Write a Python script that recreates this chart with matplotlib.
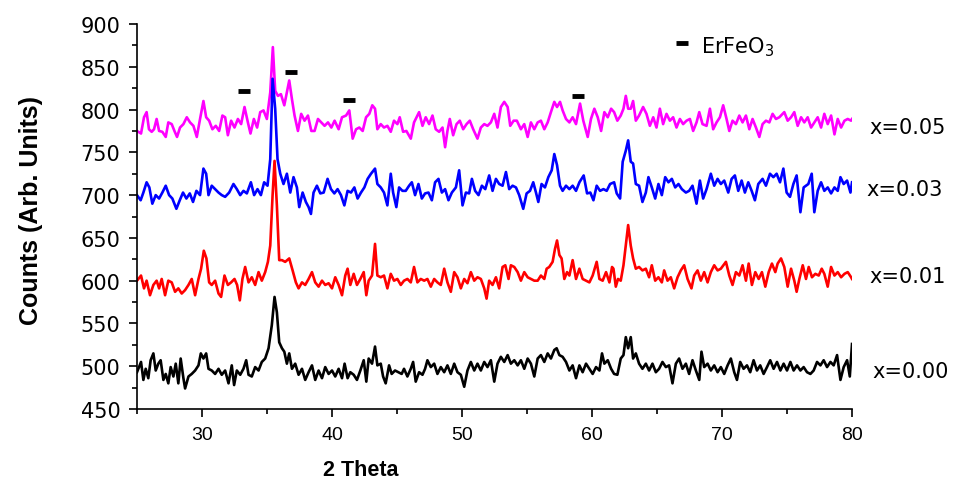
import matplotlib
matplotlib.use('Agg')
import matplotlib.pyplot as plt
from matplotlib.ticker import MultipleLocator
from matplotlib import font_manager

# x = 0.05 (magenta)
x05_t = [25.00, 25.31, 25.54, 25.74, 25.92, 26.13, 26.31, 26.51, 26.70, 26.95, 27.21, 27.41, 27.67, 27.88, 28.08, 28.31,
         28.57, 28.83, 29.08, 29.34, 29.60, 29.85, 30.11, 30.32, 30.55, 30.80, 31.06, 31.32, 31.57, 31.78, 31.99, 32.24,
         32.50, 32.76, 33.01, 33.27, 33.53, 33.73, 33.99, 34.24, 34.48, 34.73, 34.99, 35.25, 35.45, 35.63, 35.84, 36.07,
         36.33, 36.53, 36.71, 36.92, 37.12, 37.38, 37.63, 37.89, 38.15, 38.41, 38.66, 38.92, 39.18, 39.43, 39.69, 39.95,
         40.20, 40.51, 40.77, 41.08, 41.33, 41.59, 41.85, 42.10, 42.36, 42.62, 42.87,
         43.10, 43.31, 43.49, 43.75, 44.00, 44.26, 44.52, 44.77, 45.03, 45.21, 45.47, 45.72, 46.06, 46.31, 46.70, 46.96,
         47.21, 47.47, 47.73, 47.98, 48.24, 48.50, 48.70, 48.88, 49.06, 49.32, 49.58, 49.83, 50.09, 50.35, 50.60, 50.86,
         51.19, 51.45, 51.71, 51.96, 52.22, 52.48, 52.73, 52.99, 53.25, 53.51, 53.71, 53.97, 54.22, 54.53, 54.79, 55.05,
         55.30, 55.56, 55.82, 56.07, 56.33, 56.59, 56.84, 57.10, 57.31, 57.54, 57.74, 58.00, 58.26, 58.51, 58.77, 59.08,
         59.33, 59.67, 59.92, 60.18, 60.44, 60.70, 60.95, 61.21, 61.47,
         61.70, 61.95, 62.21, 62.42, 62.60, 62.78, 62.98, 63.16, 63.37, 63.62, 63.93, 64.19, 64.45, 64.71, 64.96, 65.22,
         65.47, 65.73, 65.99, 66.24, 66.50, 66.76, 67.01, 67.27, 67.53, 67.78, 68.04, 68.25, 68.50, 68.81, 69.07, 69.32,
         69.58, 69.84, 70.09, 70.35, 70.56, 70.81, 71.07, 71.33, 71.58, 71.84, 72.10, 72.35, 72.61, 72.87, 73.12, 73.38,
         73.64, 73.89, 74.15, 74.41, 74.79, 75.05, 75.31, 75.56, 75.82, 76.08, 76.33, 76.59, 76.85, 77.10, 77.36, 77.62,
         77.87, 78.13, 78.39, 78.65, 78.90, 79.16, 79.42, 79.67, 79.93, 80.00]
x05_c = [775, 772, 791, 797, 777, 774, 777, 789, 775, 774, 768, 785, 783, 775, 768, 779,
         783, 791, 785, 781, 768, 789, 810, 791, 787, 777, 781, 775, 793, 791, 770, 787,
         779, 789, 783, 803, 785, 772, 789, 779, 797, 799, 789, 820, 873, 822, 816, 818,
         805, 820, 834, 812, 793, 775, 795, 787, 793, 775, 775, 789, 785, 781, 785, 779,
         787, 777, 791, 793, 799, 766, 777, 779, 775, 791, 795,
         805, 801, 777, 783, 779, 781, 774, 787, 783, 791, 774, 775, 766, 785, 797, 781,
         791, 783, 793, 777, 774, 779, 756, 775, 789, 770, 783, 787, 777, 783, 787, 777,
         766, 779, 783, 781, 785, 795, 779, 803, 809, 803, 781, 787, 787, 777, 783, 768,
         785, 777, 785, 787, 777, 785, 797, 809, 803, 809, 799, 789, 785, 791, 783, 807,
         787, 768, 789, 801, 791, 775, 797, 791, 801,
         797, 787, 793, 801, 816, 801, 801, 810, 787, 793, 803, 795, 781, 791, 779, 801,
         783, 795, 787, 791, 779, 789, 783, 787, 789, 775, 785, 797, 783, 781, 801, 777,
         785, 791, 805, 789, 775, 787, 783, 793, 785, 793, 777, 789, 779, 768, 783, 787,
         785, 795, 789, 791, 797, 787, 791, 797, 781, 791, 785, 791, 779, 785, 791, 779,
         795, 783, 793, 771, 789, 779, 787, 789, 787, 789]

# x = 0.03 (blue)
x03_t = [25.00, 25.28, 25.49, 25.74, 25.95, 26.18, 26.44, 26.70, 26.95, 27.21, 27.47, 27.72, 28.03, 28.29, 28.54, 28.80,
         29.06, 29.31, 29.57, 29.85, 30.11, 30.32, 30.50, 30.75, 31.01, 31.27, 31.52, 31.78, 32.09, 32.42, 32.68, 32.94,
         33.19, 33.45, 33.76, 34.01, 34.27, 34.53, 34.78, 35.04, 35.25, 35.43, 35.63, 35.81, 36.02, 36.27, 36.53, 36.79,
         37.04, 37.30, 37.48, 37.74, 37.99, 38.20, 38.38, 38.58, 38.84, 39.10, 39.36, 39.66, 39.92, 40.18, 40.43, 40.69,
         40.95, 41.20, 41.46, 41.72, 41.97, 42.23, 42.49, 42.74, 43.00,
         43.31, 43.49, 43.75, 44.00, 44.26, 44.52, 44.70, 44.95, 45.16, 45.42, 45.67, 45.93, 46.14, 46.39, 46.65, 46.91,
         47.16, 47.42, 47.68, 47.93, 48.19, 48.45, 48.70, 48.96, 49.22, 49.53, 49.78, 50.04, 50.30, 50.55, 50.76, 51.01,
         51.27, 51.53, 51.79, 52.09, 52.35, 52.61, 52.86, 53.12, 53.38, 53.63, 53.89, 54.15, 54.40, 54.71, 54.97, 55.23,
         55.48, 55.69, 55.87, 56.12, 56.38, 56.64, 56.90, 57.10, 57.31, 57.54, 57.74, 58.00, 58.26, 58.51, 58.77, 59.03,
         59.36, 59.62, 59.87, 60.11, 60.36, 60.62, 60.88, 61.13, 61.39,
         61.70, 61.90, 62.16, 62.36, 62.60, 62.78, 62.98, 63.16, 63.37, 63.62, 63.88, 64.14, 64.34, 64.60, 64.86, 65.11,
         65.37, 65.63, 65.88, 66.14, 66.40, 66.65, 66.91, 67.22, 67.47, 67.73, 68.04, 68.30, 68.55, 68.81, 69.14, 69.40,
         69.66, 69.91, 70.17, 70.48, 70.74, 70.99, 71.25, 71.51, 71.76, 72.02, 72.28, 72.53, 72.79, 73.12, 73.38, 73.69,
         73.95, 74.20, 74.46, 74.72, 74.97, 75.23, 75.49, 75.74, 76.03, 76.28, 76.64, 76.90, 77.10, 77.36, 77.62, 77.87,
         78.13, 78.39, 78.65, 78.90, 79.11, 79.36, 79.62, 79.88, 80.00]
x03_c = [700, 694, 703, 715, 709, 690, 700, 696, 703, 711, 700, 696, 684, 694, 703, 696,
         702, 692, 705, 700, 731, 725, 700, 711, 707, 703, 700, 698, 703, 713, 707, 700,
         705, 702, 715, 700, 707, 700, 715, 711, 742, 836, 801, 742, 725, 713, 725, 703,
         721, 709, 686, 703, 692, 686, 678, 703, 711, 702, 703, 719, 707, 702, 707, 700,
         688, 705, 703, 709, 696, 703, 709, 719, 725,
         731, 713, 709, 703, 688, 725, 703, 686, 709, 705, 705, 711, 715, 700, 713, 696,
         702, 703, 694, 715, 719, 703, 707, 694, 703, 709, 729, 688, 703, 702, 719, 705,
         700, 711, 707, 723, 705, 719, 713, 711, 727, 707, 711, 709, 700, 684, 702, 705,
         715, 703, 692, 713, 709, 721, 729, 748, 735, 711, 705, 711, 707, 711, 705, 715,
         723, 702, 703, 694, 711, 705, 707, 705, 713,
         715, 702, 696, 739, 752, 764, 739, 737, 713, 711, 692, 703, 721, 709, 696, 713,
         700, 721, 715, 719, 709, 713, 707, 703, 705, 711, 690, 717, 696, 707, 725, 711,
         719, 713, 717, 703, 719, 723, 705, 717, 703, 715, 705, 694, 713, 719, 711, 725,
         721, 725, 715, 731, 703, 698, 713, 723, 680, 709, 713, 725, 680, 705, 715, 705,
         709, 702, 709, 705, 721, 713, 717, 703, 715]

# x = 0.01 (red)
x01_t = [25.00, 25.31, 25.54, 25.74, 26.00, 26.26, 26.51, 26.70, 26.90, 27.16, 27.41, 27.67, 27.93, 28.18, 28.44, 28.70,
         28.96, 29.21, 29.47, 29.73, 29.93, 30.14, 30.34, 30.55, 30.75, 31.01, 31.27, 31.47, 31.73, 31.99, 32.24, 32.50,
         32.70, 32.91, 33.11, 33.32, 33.58, 33.83, 34.09, 34.35, 34.60, 34.86, 35.07, 35.25, 35.43, 35.58, 35.76, 35.94,
         36.15, 36.40, 36.71, 36.97, 37.22, 37.43, 37.69, 37.94, 38.20, 38.46, 38.71, 38.97, 39.23, 39.48, 39.74, 40.00,
         40.25, 40.51, 40.77, 41.02, 41.20, 41.41, 41.67, 41.92, 42.18, 42.44, 42.64, 42.82, 43.08,
         43.31, 43.49, 43.75, 44.00, 44.26, 44.52, 44.77, 45.03, 45.29, 45.54, 45.80, 46.06, 46.31, 46.57, 46.83, 47.09,
         47.34, 47.60, 47.86, 48.11, 48.37, 48.63, 48.88, 49.14, 49.40, 49.65, 49.91, 50.17, 50.42, 50.68, 50.94, 51.19,
         51.45, 51.71, 51.89, 52.09, 52.35, 52.61, 52.86, 53.12, 53.33, 53.58, 53.76, 54.02, 54.28, 54.53, 54.79, 55.05,
         55.30, 55.56, 55.82, 56.07, 56.33, 56.51, 56.71, 56.97, 57.15, 57.31, 57.49, 57.66, 57.87, 58.08, 58.26, 58.51,
         58.77, 59.03, 59.28, 59.54, 59.80, 60.05, 60.36, 60.57, 60.82, 61.08, 61.34, 61.54,
         61.65, 61.83, 62.00, 62.21, 62.42, 62.60, 62.78, 62.98, 63.16, 63.37, 63.62, 63.88, 64.14, 64.39, 64.60, 64.86,
         65.11, 65.37, 65.55, 65.81, 66.06, 66.32, 66.58, 66.83, 67.09, 67.35, 67.65, 67.86, 68.12, 68.37, 68.63, 68.89,
         69.14, 69.40, 69.66, 69.91, 70.30, 70.56, 70.81, 71.07, 71.33, 71.58, 71.84, 72.05, 72.30, 72.56, 72.82, 73.07,
         73.33, 73.59, 73.84, 74.10, 74.28, 74.54, 74.79, 75.05, 75.31, 75.56, 75.74, 75.95, 76.21, 76.46, 76.67, 76.92,
         77.18, 77.44, 77.67, 77.87, 78.13, 78.39, 78.65, 78.90, 79.16, 79.42, 79.67, 79.93, 80.00]
x01_c = [600, 606, 591, 600, 583, 595, 600, 591, 602, 583, 600, 598, 587, 591, 585, 589,
         595, 602, 583, 602, 614, 635, 626, 598, 595, 600, 585, 581, 606, 595, 598, 602,
         595, 577, 602, 616, 598, 604, 595, 610, 600, 610, 622, 641, 700, 740, 688, 624,
         624, 622, 626, 612, 598, 591, 598, 595, 602, 610, 598, 593, 600, 595, 597, 591,
         604, 595, 583, 606, 614, 595, 608, 595, 602, 610, 583, 600, 606,
         643, 606, 604, 606, 591, 608, 600, 602, 595, 600, 602, 598, 616, 598, 602, 600,
         602, 593, 602, 598, 595, 614, 598, 587, 610, 604, 591, 602, 597, 610, 600, 604,
         602, 591, 579, 600, 595, 604, 591, 616, 618, 602, 618, 616, 610, 600, 610, 604,
         602, 600, 600, 606, 602, 614, 616, 622, 637, 647, 630, 626, 602, 610, 606, 624,
         602, 614, 602, 600, 598, 606, 622, 602, 600, 610, 598, 616,
         614, 593, 602, 600, 618, 641, 665, 641, 626, 614, 616, 612, 614, 604, 618, 600,
         604, 598, 612, 600, 604, 591, 604, 612, 618, 602, 591, 606, 612, 600, 610, 598,
         610, 618, 612, 614, 622, 606, 595, 610, 606, 618, 600, 620, 595, 610, 602, 610,
         593, 610, 620, 610, 620, 626, 616, 593, 614, 600, 587, 602, 618, 602, 616, 604,
         608, 606, 614, 608, 593, 616, 606, 610, 604, 608, 610, 604, 602]

# x = 0.00 (black)
x00_t = [25.00, 25.31, 25.49, 25.67, 25.87, 26.05, 26.26, 26.44, 26.64, 26.82, 27.03, 27.21, 27.41, 27.59, 27.80, 27.98,
         28.18, 28.36, 28.57, 28.70, 28.96, 29.21, 29.47, 29.73, 29.91, 30.11, 30.32, 30.50, 30.75, 31.01, 31.27, 31.52,
         31.78, 32.04, 32.29, 32.47, 32.68, 32.94, 33.19, 33.40, 33.58, 33.83, 34.09, 34.35, 34.60, 34.86, 35.12, 35.37,
         35.58, 35.76, 35.94, 36.15, 36.33, 36.53, 36.71, 36.92, 37.17, 37.43, 37.69, 37.94, 38.20, 38.46, 38.71, 38.97,
         39.23, 39.48, 39.74, 40.00, 40.25, 40.51, 40.77, 40.97, 41.20, 41.41, 41.67, 41.92, 42.18, 42.44, 42.64, 42.82,
         43.08,
         43.31, 43.49, 43.75, 43.93, 44.13, 44.39, 44.59, 44.85, 45.11, 45.36, 45.54, 45.80, 46.06, 46.24, 46.44, 46.70,
         46.96, 47.16, 47.34, 47.60, 47.86, 48.11, 48.37, 48.63, 48.88, 49.14, 49.40, 49.65, 49.91, 50.17, 50.42, 50.68,
         50.94, 51.19, 51.45, 51.71, 51.96, 52.22, 52.48, 52.73, 52.99, 53.25, 53.51, 53.76, 54.02, 54.28, 54.53, 54.79,
         55.05, 55.30, 55.56, 55.82, 56.07, 56.33, 56.59, 56.84, 57.10, 57.28, 57.49, 57.74, 58.00, 58.26, 58.51, 58.77,
         59.03, 59.28, 59.54, 59.80, 60.05, 60.31, 60.57, 60.77, 60.95, 61.21, 61.47,
         61.70, 61.95, 62.21, 62.42, 62.60, 62.78, 62.98, 63.16, 63.37, 63.62, 63.88, 64.14, 64.39, 64.65, 64.91, 65.16,
         65.42, 65.68, 65.93, 66.19, 66.45, 66.70, 66.96, 67.22, 67.47, 67.73, 67.99, 68.25, 68.42, 68.63, 68.89, 69.14,
         69.40, 69.66, 69.91, 70.17, 70.43, 70.68, 70.94, 71.15, 71.40, 71.66, 71.92, 72.17, 72.43, 72.69, 72.94, 73.20,
         73.46, 73.71, 73.97, 74.23, 74.49, 74.74, 75.00, 75.26, 75.51, 75.77, 76.03, 76.28, 76.54, 76.80, 77.05, 77.31,
         77.57, 77.82, 78.08, 78.34, 78.59, 78.85, 79.11, 79.36, 79.62, 79.83, 80.00]
x00_c = [493, 505, 484, 497, 486, 507, 515, 495, 503, 507, 484, 491, 480, 499, 488, 503,
         480, 509, 486, 474, 488, 491, 495, 501, 515, 509, 515, 497, 495, 491, 497, 490,
         495, 480, 501, 478, 495, 490, 497, 507, 490, 488, 499, 495, 505, 509, 521, 548,
         581, 563, 528, 521, 517, 503, 515, 497, 503, 490, 497, 484, 493, 501, 484, 495,
         486, 499, 491, 495, 488, 497, 486, 503, 486, 493, 490, 484, 495, 507, 482, 509,
         503,
         523, 501, 503, 488, 480, 501, 491, 495, 493, 491, 497, 488, 497, 505, 482, 493,
         490, 497, 507, 499, 503, 491, 499, 493, 501, 491, 503, 493, 490, 476, 495, 505,
         495, 503, 495, 505, 499, 507, 482, 503, 511, 505, 513, 503, 507, 501, 507, 497,
         509, 503, 488, 509, 513, 505, 515, 509, 519, 521, 513, 511, 505, 495, 501, 486,
         501, 493, 503, 497, 491, 499, 495, 515, 503, 507, 497,
         491, 490, 509, 513, 534, 521, 534, 509, 515, 503, 497, 503, 495, 503, 493, 497,
         505, 499, 501, 480, 503, 509, 497, 503, 491, 507, 495, 484, 517, 499, 503, 495,
         501, 493, 499, 491, 501, 509, 493, 484, 505, 497, 501, 493, 507, 495, 501, 491,
         499, 507, 497, 505, 495, 503, 495, 505, 495, 501, 495, 499, 493, 491, 495, 505,
         501, 507, 499, 505, 501, 513, 484, 499, 507, 488, 526]

labels = ['x=0.05', 'x=0.03', 'x=0.01', 'x=0.00']
label_pos = [(81.3, 780), (81.1, 707), (81.3, 606), (81.6, 495)]

# ErFeO3 reflections
mark_t = [33.25, 36.85, 41.3, 58.95]
mark_c = [822, 844, 811, 816]

names = set(f.name for f in font_manager.fontManager.ttflist)
if 'Liberation Sans Narrow' in names:
    ylab_font, ylab_size = 'Liberation Sans Narrow', 22
else:
    ylab_font, ylab_size = 'Liberation Sans', 18

plt.rcParams['mathtext.fontset'] = 'dejavusans'

fig = plt.figure(figsize=(9.54, 4.81), dpi=100)
ax = fig.add_axes([0.1436, 0.1476, 0.7495, 0.8004])

lw = 1.9
ax.plot(x05_t, x05_c, color='#ff00ff', lw=lw)
ax.plot(x03_t, x03_c, color='#0000ff', lw=lw)
ax.plot(x01_t, x01_c, color='#ff0000', lw=lw)
ax.plot(x00_t, x00_c, color='black', lw=lw)

ax.plot(mark_t, mark_c, ls='none', marker='_', ms=9, mew=3.5, color='black')
ax.plot([66.9], [878], ls='none', marker='_', ms=9, mew=3.5, color='black', clip_on=False)
ax.text(68.4, 874, 'ErFeO$_3$', fontsize=15, family='DejaVu Sans', va='center', ha='left')

for lab, (tx, ty) in zip(labels, label_pos):
    ax.text(tx, ty, lab, fontsize=15, family='DejaVu Sans', va='center', ha='left', clip_on=False)

ax.set_xlim(25, 80)
ax.set_ylim(450, 900)
ax.xaxis.set_major_locator(MultipleLocator(10))
ax.xaxis.set_minor_locator(MultipleLocator(5))
ax.yaxis.set_major_locator(MultipleLocator(50))
ax.yaxis.set_minor_locator(MultipleLocator(25))

ax.spines['top'].set_visible(False)
ax.spines['right'].set_visible(False)
ax.spines['left'].set_linewidth(1.2)
ax.spines['bottom'].set_linewidth(1.2)

ax.tick_params(which='major', direction='out', length=6, width=1.2)
ax.tick_params(which='minor', direction='out', length=3.5, width=1.2)
ax.tick_params(axis='x', pad=6, labelsize=14, labelfontfamily='Liberation Sans')
ax.tick_params(axis='y', pad=6, labelsize=15, labelfontfamily='DejaVu Sans')

ax.set_xlabel('2 Theta', fontsize=15.5, fontweight='bold', family='Liberation Sans')
ax.set_ylabel('Counts (Arb. Units)', fontsize=ylab_size, fontweight='bold', family=ylab_font)
ax.xaxis.set_label_coords(0.313, -0.13)
ax.yaxis.set_label_coords(-0.131, 0.517)

fig.savefig('out.png', dpi=100)
